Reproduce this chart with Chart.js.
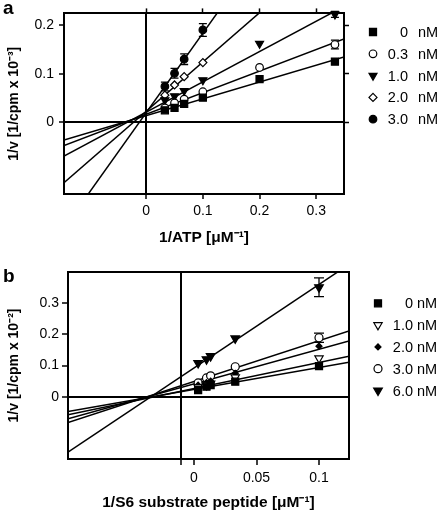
<!DOCTYPE html>
<html>
<head>
<meta charset="utf-8">
<script src="https://cdn.jsdelivr.net/npm/chart.js@4.4.1/dist/chart.umd.min.js"></script>
<style>
  body { margin: 0; background: #fff; }
  #wrap { position: relative; width: 440px; height: 512px; }
  canvas { position: absolute; left: 0; }
  .tag { position: absolute; font: bold 19px "Liberation Sans", Arial, sans-serif; }
</style>
</head>
<body>
<div id="wrap">
  <canvas id="chartA" width="440" height="250" style="top:0"></canvas>
  <canvas id="chartB" width="440" height="262" style="top:250px"></canvas>
  <div class="tag" style="left:3px;top:-3px">a</div>
  <div class="tag" style="left:3px;top:265px">b</div>
</div>
<script>
// ---- panel a: 1/ATP ----
var atpX = [0.033, 0.05, 0.067, 0.1, 0.2, 0.333];
var atpTicksX = [0, 0.1, 0.2, 0.3];
var atpTicksY = [0, 0.1, 0.2];
var atpConc = ['0', '0.3', '1.0', '2.0', '3.0'];
var atp0nM = [0.025, 0.030, 0.038, 0.051, 0.089, 0.125];
var atp03nM = [0.030, 0.040, 0.048, 0.063, 0.113, 0.160];
var atp1nM = [0.046, 0.054, 0.065, 0.087, 0.162, 0.222];
var atp2nM = [0.056, 0.077, 0.094, 0.123];
var atp3nM = [0.074, 0.101, 0.130, 0.190];
var atpErr03nM = [0, 0, 0, 0, 0, 0.009];
var atpErr1nM = [0, 0, 0, 0, 0, 0.006];
var atpErr3nM = [0.009, 0.010, 0.011, 0.013];
// fitted lines
var atpSlope = [0.346, 0.443, 0.623, 1.012, 1.634];
var atpIntercept = [0.014, 0.017, 0.021, 0.023, 0.020];

// ---- panel b: 1/S6 peptide ----
var s6X = [0.0033, 0.01, 0.0133, 0.033, 0.1];
var s6TicksX = [0, 0.05, 0.1];
var s6TicksY = [0, 0.1, 0.2, 0.3];
var s6AxisX = -0.0104;   // where the vertical axis line sits in the figure
var s6Conc = ['0', '1.0', '2.0', '3.0', '6.0'];
var s60nM = [0.021, 0.032, 0.037, 0.048, 0.098];
var s61nM = [0.030, 0.037, 0.042, 0.062, 0.123];
var s62nM = [0.037, 0.045, 0.050, 0.075, 0.162];
var s63nM = [0.044, 0.060, 0.067, 0.096, 0.189];
var s66nM = [0.108, 0.120, 0.130, 0.187, 0.351];
var s6Err3nM = [0, 0, 0, 0, 0.015];
var s6Err6nM = [0, 0, 0, 0, 0.030];
var s6Slope = [0.703, 0.836, 1.108, 1.308, 2.680];
var s6Intercept = [0.023, 0.026, 0.041, 0.049, 0.092];

Chart.defaults.font.family = '"Liberation Sans", Arial, sans-serif';
Chart.defaults.font.size = 14;
Chart.defaults.color = '#000';

var styleA = [
  { style: 'rect', r: 5, fill: '#000' },
  { style: 'circle', r: 3.8, fill: '#fff' },
  { style: 'triangle', rot: 180, r: 4.6, fill: '#000' },
  { style: 'rectRot', r: 4, fill: '#fff' },
  { style: 'circle', r: 3.8, fill: '#000' }
];
var styleB = [
  { style: 'rect', r: 5, fill: '#000' },
  { style: 'triangle', rot: 180, r: 4.8, fill: '#fff' },
  { style: 'rectRot', r: 3, fill: '#000' },
  { style: 'circle', r: 4, fill: '#fff' },
  { style: 'triangle', rot: 180, r: 5, fill: '#000' }
];

function buildDatasets(xs, series, errs, slopes, icpts, xmin, xmax, styles) {
  var sets = [];
  series.forEach(function (ys, i) {
    sets.push({
      data: [{ x: xmin, y: icpts[i] + slopes[i] * xmin }, { x: xmax, y: icpts[i] + slopes[i] * xmax }],
      showLine: true, borderColor: '#000', borderWidth: 1.5, pointRadius: 0, order: 2
    });
  });
  series.forEach(function (ys, i) {
    var st = styles[i];
    sets.push({
      data: ys.map(function (y, j) { return { x: xs[j], y: y }; }),
      errors: errs[i],
      pointStyle: st.style, pointRotation: st.rot || 0, pointRadius: st.r,
      pointBackgroundColor: st.fill, pointBorderColor: '#000', pointBorderWidth: 1.2,
      clip: false, order: 1, markStyle: st
    });
  });
  return sets;
}

var extras = {
  id: 'extras',
  beforeDatasetsDraw: function (chart) {
    var ctx = chart.ctx, yScale = chart.scales.y, cap = chart.options.plugins.extras.cap;
    ctx.save();
    ctx.strokeStyle = '#000';
    ctx.lineWidth = 1.3;
    chart.data.datasets.forEach(function (ds, i) {
      if (!ds.errors) return;
      var meta = chart.getDatasetMeta(i);
      ds.errors.forEach(function (e, j) {
        if (!e) return;
        var el = meta.data[j];
        var y = ds.data[j].y;
        var top = yScale.getPixelForValue(y + e), bot = yScale.getPixelForValue(y - e);
        ctx.beginPath();
        ctx.moveTo(el.x, top); ctx.lineTo(el.x, bot);
        ctx.moveTo(el.x - cap, top); ctx.lineTo(el.x + cap, top);
        ctx.moveTo(el.x - cap, bot); ctx.lineTo(el.x + cap, bot);
        ctx.stroke();
      });
    });
    ctx.restore();
  },
  afterDraw: function (chart) {
    var o = chart.options.plugins.extras, ctx = chart.ctx;
    ctx.save();
    ctx.font = '14.5px "Liberation Sans", Arial, sans-serif';
    ctx.textBaseline = 'middle';
    var k = 0;
    chart.data.datasets.forEach(function (ds) {
      if (!ds.markStyle) return;
      var st = ds.markStyle, y = o.top + k * o.dy;
      ctx.fillStyle = st.fill;
      ctx.strokeStyle = '#000';
      Chart.helpers.drawPoint(ctx, { pointStyle: st.style, rotation: st.rot || 0, radius: st.r, borderWidth: 1.2 }, o.markX, y);
      ctx.fillStyle = '#000';
      ctx.textAlign = 'right';
      ctx.fillText(o.labels[k], o.numRight, y + 1);
      ctx.textAlign = 'left';
      ctx.fillText('nM', o.unitLeft, y + 1);
      k++;
    });
    ctx.restore();
  }
};

function setTicks(list) {
  return function (scale) { scale.ticks = list.map(function (v) { return { value: v }; }); };
}

function makeChart(id, p) {
  var lineAt = p.axisX;
  return new Chart(document.getElementById(id), {
    type: 'scatter',
    data: { datasets: p.datasets },
    options: {
      responsive: false,
      animation: false,
      events: [],
      layout: { padding: 0 },
      plugins: { legend: { display: false }, tooltip: { enabled: false }, extras: p.legend },
      scales: {
        x: {
          type: 'linear', position: 'bottom', min: p.xmin, max: p.xmax,
          afterBuildTicks: setTicks(p.ticksX.concat(lineAt === 0 ? [] : [lineAt])),
          ticks: { padding: p.xPad, maxRotation: 0, callback: function (v) { return v === lineAt && lineAt !== 0 ? '' : String(v); } },
          grid: {
            color: function (c) { return c.tick && c.tick.value === lineAt ? '#000' : 'rgba(0,0,0,0)'; },
            lineWidth: 2, tickColor: '#000', tickWidth: 1.5, tickLength: p.tickLen
          },
          border: { color: '#000', width: 2 },
          title: { display: true, text: p.xTitle, font: { weight: 'bold', size: 15.5 }, padding: { top: 0, bottom: p.xTitlePad } },
          afterFit: function (s) { s.height = p.bottomH; }
        },
        x2: {
          type: 'linear', position: 'top', min: p.xmin, max: p.xmax, display: true,
          afterBuildTicks: setTicks(p.ticksX),
          ticks: { display: false },
          grid: { drawOnChartArea: false, drawTicks: p.mirror, tickColor: '#000', tickWidth: 1.5, tickLength: p.tickLen },
          border: { color: '#000', width: 2 },
          afterFit: function (s) { s.height = p.topH; }
        },
        y: {
          type: 'linear', position: 'left', min: p.ymin, max: p.ymax,
          afterBuildTicks: setTicks(p.ticksY),
          ticks: { padding: p.yPad, callback: function (v) { return String(v); } },
          grid: {
            color: function (c) { return c.tick && c.tick.value === 0 ? '#000' : 'rgba(0,0,0,0)'; },
            lineWidth: 2, tickColor: '#000', tickWidth: 1.5, tickLength: p.tickLen
          },
          border: { color: '#000', width: 2 },
          title: { display: true, text: p.yTitle, font: { weight: 'bold', size: 14 }, padding: { top: 6, bottom: 0 } },
          afterFit: function (s) { s.width = p.leftW; }
        },
        y2: {
          type: 'linear', position: 'right', min: p.ymin, max: p.ymax, display: true,
          afterBuildTicks: setTicks(p.ticksY),
          ticks: { display: false },
          grid: { drawOnChartArea: false, drawTicks: p.mirror, tickColor: '#000', tickWidth: 1.5, tickLength: p.tickLen },
          border: { color: '#000', width: 2 },
          afterFit: function (s) { s.width = p.rightW; }
        }
      }
    },
    plugins: [extras]
  });
}

makeChart('chartA', {
  datasets: buildDatasets(atpX, [atp0nM, atp03nM, atp1nM, atp2nM, atp3nM],
    [null, atpErr03nM, atpErr1nM, null, atpErr3nM], atpSlope, atpIntercept, -0.145, 0.349, styleA),
  xmin: -0.145, xmax: 0.349, ymin: -0.147, ymax: 0.224,
  ticksX: atpTicksX, ticksY: atpTicksY, axisX: 0,
  xTitle: '1/ATP [μM⁻¹]', yTitle: '1/v [1/cpm x 10⁻³]',
  leftW: 64, rightW: 96, topH: 7, bottomH: 56, mirror: true,
  tickLen: 5, xPad: 4, yPad: 5, xTitlePad: 3,
  legend: { cap: 4, top: 32, dy: 21.8, markX: 373, numRight: 408, unitLeft: 418, labels: atpConc }
});

makeChart('chartB', {
  datasets: buildDatasets(s6X, [s60nM, s61nM, s62nM, s63nM, s66nM],
    [null, null, null, s6Err3nM, s6Err6nM], s6Slope, s6Intercept, -0.1008, 0.124, styleB),
  xmin: -0.1008, xmax: 0.124, ymin: -0.2, ymax: 0.4,
  ticksX: s6TicksX, ticksY: s6TicksY, axisX: s6AxisX,
  xTitle: '1/S6 substrate peptide [μM⁻¹]', yTitle: '1/v [1/cpm x 10⁻²]',
  leftW: 68, rightW: 91, topH: 22, bottomH: 53, mirror: false,
  tickLen: 6, xPad: 5, yPad: 3, xTitlePad: 0,
  legend: { cap: 5, top: 53.3, dy: 21.8, markX: 378, numRight: 413, unitLeft: 417, labels: s6Conc }
});
</script>
</body>
</html>
